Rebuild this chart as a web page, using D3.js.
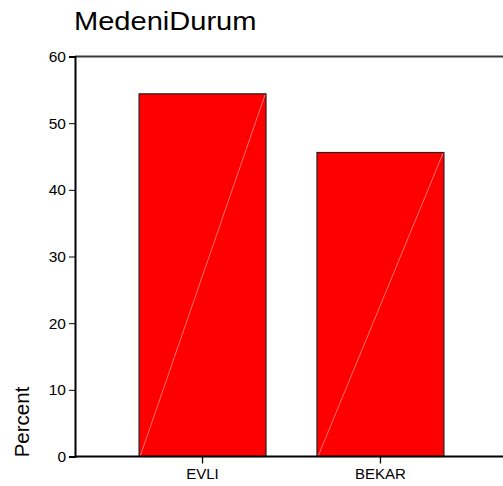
<!DOCTYPE html>
<html><head><meta charset="utf-8">
<script src="https://cdn.jsdelivr.net/npm/d3@7"></script>
<style>
html,body{margin:0;padding:0;background:#fff;}
text{font-family:Arial,"Liberation Sans",sans-serif;fill:#000;}
</style></head>
<body>
<svg id="chart" width="503" height="486"></svg>
<script>
const title = "MedeniDurum";
const yLabel = "Percent";
const categories = ["EVLI", "BEKAR"];
const percents = [54.4, 45.6];
const yTicks = [0, 10, 20, 30, 40, 50, 60];

const svg = d3.select("#chart");
const mLeft = 75, mTop = 56.5, mBottom = 456.5;

const x = d3.scaleBand().domain(categories).range([mLeft, 508])
  .paddingInner(0.2865).paddingOuter(0.36);
const y = d3.scaleLinear().domain([0, 60]).range([mBottom, mTop]);

// title
svg.append("text").attr("x", 74).attr("y", 30.5)
  .attr("font-size", 25.5).text(title)
  .attr("transform", "translate(74,0) scale(1.14,1) translate(-74,0)");

// top frame line
svg.append("line").attr("x1", mLeft).attr("x2", 503)
  .attr("y1", y(60)).attr("y2", y(60))
  .attr("stroke", "#3a3a3a").attr("stroke-width", 2);

// bars
const g = svg.append("g");
categories.forEach((c, i) => {
  const x0 = x(c), w = x.bandwidth(), y0 = y(percents[i]);
  g.append("rect").attr("x", x0).attr("y", y0)
    .attr("width", w).attr("height", y(0) - y0)
    .attr("fill", "#ff0000").attr("stroke", "#222").attr("stroke-width", 1.2);
  g.append("line").attr("x1", x0 + 1).attr("y1", y(0))
    .attr("x2", x0 + w - 1).attr("y2", y0 + 1)
    .attr("stroke", "#ff9090").attr("stroke-width", 0.8);
});

// y axis
const ya = svg.append("g").attr("transform", `translate(${mLeft},0)`)
  .call(d3.axisLeft(y).tickValues(yTicks).tickSize(6).tickPadding(3));
ya.select(".domain").attr("stroke", "#000").attr("stroke-width", 2);
ya.selectAll(".tick line").attr("stroke", "#000").attr("stroke-width", 1);
ya.selectAll(".tick text").attr("font-size", 15.5).attr("font-family", "Arial,'Liberation Sans',sans-serif");

// x axis
const xa = svg.append("g").attr("transform", `translate(0,${mBottom})`)
  .call(d3.axisBottom(x).tickSize(7).tickPadding(5).tickSizeOuter(0));
xa.select(".domain").attr("d", `M${mLeft},0H503`).attr("stroke", "#000").attr("stroke-width", 2);
xa.selectAll(".tick line").attr("stroke", "#000").attr("stroke-width", 1.3);
xa.selectAll(".tick text").attr("font-size", 15).attr("font-family", "Arial,'Liberation Sans',sans-serif");

// y label
svg.append("text").attr("transform", "translate(28.5,422) rotate(-90)")
  .attr("text-anchor", "middle").attr("font-size", 20.5).text(yLabel);
</script>
</body></html>
